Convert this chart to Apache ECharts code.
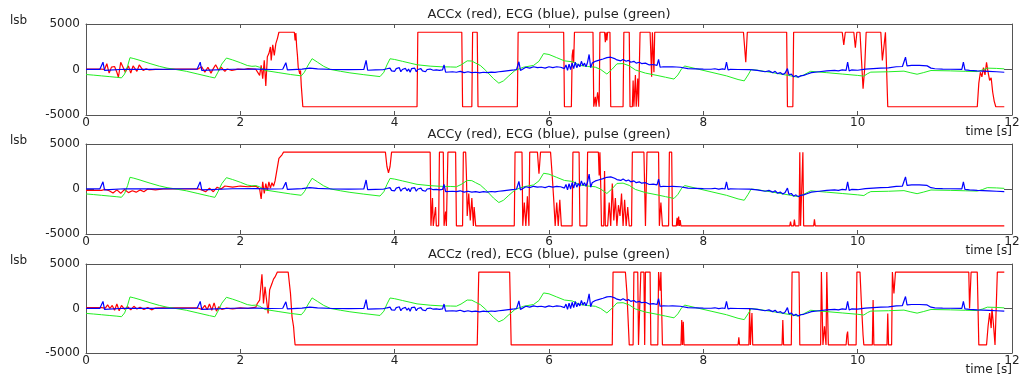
<!DOCTYPE html>
<html>
<head>
<meta charset="utf-8">
<script src="https://cdn.jsdelivr.net/npm/echarts@6/dist/echarts.min.js"></script>
<style>
html,body{margin:0;padding:0;background:#fff;}
#chart{width:1019px;height:376px;}
</style>
</head>
<body>
<div id="chart"></div>
<script>
// ---------- DATA ----------
const TITLES = ['ACCx (red), ECG (blue), pulse (green)', 'ACCy (red), ECG (blue), pulse (green)', 'ACCz (red), ECG (blue), pulse (green)'];
const X_TICKS = [0, 2, 4, 6, 8, 10, 12];
const Y_TICKS = [-5000, 0, 5000];
const Y_UNIT = 'lsb';
const X_NAME = 'time [s]';

// pulse (green) [t, lsb]
const PULSE = [[0,-550],[0.1,-620],[0.2,-700],[0.3,-780],[0.4,-860],[0.46,-920],[0.5,-500],[0.54,400],[0.57,1300],[0.62,1200],[0.7,1000],[0.83,650],[0.95,350],[1.05,150],[1.13,50],[1.3,-200],[1.45,-500],[1.6,-800],[1.67,-930],[1.71,-300],[1.76,600],[1.82,1260],[1.9,1050],[2.0,750],[2.09,440],[2.15,350],[2.2,380],[2.25,250],[2.32,-110],[2.5,-350],[2.65,-550],[2.79,-700],[2.83,-300],[2.88,500],[2.93,1190],[3.0,800],[3.08,350],[3.17,0],[3.3,-200],[3.42,-370],[3.6,-570],[3.81,-780],[3.86,-300],[3.9,500],[3.94,1180],[4.0,1100],[4.1,900],[4.2,700],[4.29,520],[4.46,370],[4.6,300],[4.72,280],[4.8,260],[4.86,500],[4.94,950],[5.0,930],[5.05,700],[5.11,440],[5.18,-100],[5.28,-1000],[5.35,-1500],[5.41,-1250],[5.48,-700],[5.56,-100],[5.67,250],[5.8,450],[5.87,900],[5.93,1750],[6.0,1650],[6.1,1300],[6.2,950],[6.3,850],[6.4,450],[6.5,330],[6.6,250],[6.67,0],[6.75,-500],[6.82,50],[6.88,620],[6.96,650],[7.04,400],[7.12,-50],[7.25,-400],[7.4,-650],[7.51,-850],[7.62,-1050],[7.67,-600],[7.72,100],[7.76,380],[7.9,100],[8.1,-300],[8.3,-700],[8.45,-1100],[8.53,-1250],[8.58,-600],[8.62,0],[8.7,-80],[8.9,-350],[9.1,-650],[9.22,-840],[9.3,-600],[9.39,-200],[9.6,-350],[9.8,-500],[10.0,-650],[10.08,-730],[10.13,-450],[10.17,-290],[10.4,-250],[10.6,-180],[10.68,-350],[10.77,-520],[10.85,-350],[10.95,-110],[11.2,-150],[11.4,-200],[11.55,-230],[11.62,-50],[11.68,150],[11.8,120],[11.9,70]];

// ECG (blue) [t, lsb]
const ECG = [[0,20],[0.18,20],[0.2,60],[0.22,800],[0.24,-100],[0.26,0],[0.5,30],[0.8,20],[1.2,30],[1.44,30],[1.46,100],[1.48,800],[1.5,-100],[1.52,0],[1.9,30],[2.2,40],[2.4,0],[2.55,30],[2.57,80],[2.59,750],[2.61,-50],[2.63,0],[2.8,50],[2.9,150],[3.0,60],[3.2,0],[3.4,-20],[3.6,0],[3.61,80],[3.63,1000],[3.65,-80],[3.67,-30],
[3.75,-50],[3.85,-30],[3.9,80],[3.92,-100],[3.94,150],[3.96,-150],[3.98,50],[4.0,-200],[4.02,100],[4.04,-100],[4.06,200],[4.08,-250],[4.1,0],[4.12,-150],[4.14,120],[4.16,-200],[4.18,50],[4.2,-300],[4.22,100],[4.24,-100],[4.26,150],[4.28,-250],[4.3,0],[4.32,-200],[4.34,100],[4.36,-150],[4.38,-50],[4.4,-250],[4.42,0],[4.44,-200],[4.46,50],[4.48,-150],[4.5,-80],[4.52,-250],[4.54,-50],[4.56,-200],[4.58,-100],[4.6,-150],[4.62,-50],[4.64,500],[4.66,-300],[4.68,-200],
[4.75,-250],[4.8,-300],[4.85,-200],[4.9,-350],[4.95,-250],[5.0,-350],[5.05,-300],[5.1,-380],[5.15,-300],[5.2,-350],[5.25,-280],[5.3,-320],[5.35,-250],[5.4,-200],[5.45,-150],[5.5,-100],[5.55,-50],[5.58,0],[5.59,150],[5.61,850],[5.63,-100],[5.65,100],[5.7,250],[5.75,150],[5.8,300],[5.85,200],[5.9,250],[5.95,150],[6.0,300],[6.05,200],[6.1,300],[6.15,250],
[6.2,100],[6.22,500],[6.24,-100],[6.26,600],[6.28,0],[6.3,700],[6.32,100],[6.34,800],[6.36,200],[6.38,600],[6.4,300],[6.42,900],[6.44,400],[6.46,700],[6.48,300],[6.5,800],[6.52,1650],[6.54,200],[6.56,700],[6.58,500],[6.6,900],[6.62,700],[6.64,1000],[6.66,900],[6.7,1150],[6.75,1300],[6.8,1350],[6.85,1200],[6.88,1050],[6.9,1150],[6.93,950],[6.96,1100],[7.0,900],[7.03,1000],[7.06,800],[7.1,900],[7.13,700],[7.17,800],[7.2,650],[7.25,700],[7.3,500],[7.35,550],[7.4,450],[7.42,1100],[7.44,250],[7.48,300],[7.55,280],[7.6,300],[7.7,250],[7.8,100],[8.0,50],[8.1,30],[8.15,80],[8.2,-20],[8.25,60],[8.28,0],[8.3,800],[8.32,-50],[8.35,20],[8.45,0],[8.6,-20],[8.7,-100],[8.8,-250],[8.85,-150],[8.9,-350],[8.93,-200],[8.96,-450],[9.0,-350],[9.03,-550],[9.06,-400],[9.08,-200],[9.09,100],[9.11,-600],[9.14,-500],[9.17,-800],[9.2,-650],[9.23,-850],[9.26,-700],[9.3,-650],[9.35,-500],[9.4,-350],[9.5,-250],[9.6,-150],[9.7,-100],[9.75,-150],[9.8,-50],[9.85,-100],[9.87,800],[9.89,-150],[9.92,-50],[10.0,-80],[10.1,50],[10.2,100],[10.3,150],[10.4,180],[10.5,300],[10.58,330],[10.6,400],[10.62,1350],[10.64,400],[10.7,450],[10.8,450],[10.9,400],[10.95,150],[11.0,80],[11.1,50],[11.2,30],[11.35,20],[11.37,800],[11.39,-50],[11.45,-100],[11.55,-150],[11.7,-200],[11.8,-250],[11.9,-300]];

// ACCx (red) [t, lsb]
const ACCX = [[0,40],[0.2,50],[0.24,0],[0.27,630],[0.3,-400],[0.33,260],[0.37,330],[0.4,-300],[0.42,-850],[0.45,800],[0.48,250],[0.51,-300],[0.55,400],[0.58,-400],[0.61,400],[0.66,-200],[0.69,500],[0.74,-100],[0.78,70],[0.82,-50],[0.9,20],[1.0,0],[1.1,40],[1.3,50],[1.45,50],[1.5,300],[1.54,-300],[1.58,250],[1.62,-400],[1.65,100],[1.68,520],[1.72,-100],[1.75,250],[1.8,-200],[1.83,60],[1.89,-100],[1.97,50],[2.05,0],[2.1,100],[2.2,30],[2.25,-650],[2.27,450],[2.29,-1000],[2.31,1000],[2.33,-1800],[2.35,1400],[2.37,1750],[2.39,2480],[2.4,1000],[2.42,2700],[2.44,1550],[2.46,2850],[2.48,3400],[2.5,4095],[2.7,4095],[2.71,3200],[2.72,4000],[2.73,2500],[2.74,1550],[2.75,260],[2.77,-480],[2.78,-100],[2.79,-1800],[2.81,-4096],[4.29,-4096],[4.3,4095],[4.87,4095],[4.88,-4096],[5.0,-4096],[5.01,4095],[5.07,4095],[5.08,-4096],[5.59,-4096],[5.6,4095],[6.19,4095],[6.2,-4096],[6.29,-4096],[6.3,1500],[6.31,2200],[6.32,800],[6.33,4095],[6.57,4095],[6.58,-4096],[6.6,-3000],[6.61,-4096],[6.63,-2500],[6.65,-4096],[6.66,4095],[6.72,4095],[6.73,3000],[6.74,4095],[6.75,3200],[6.76,4095],[6.79,4095],[6.8,-4096],[6.96,-4096],[6.97,4095],[7.04,4095],[7.05,-4096],[7.08,-4096],[7.09,-1200],[7.1,-4096],[7.12,-600],[7.13,-4096],[7.15,-1000],[7.16,-4096],[7.18,4095],[7.31,4095],[7.33,-800],[7.34,4095],[7.36,-300],[7.37,4095],[8.52,4095],[8.55,800],[8.57,4095],[9.08,4095],[9.09,-4096],[9.16,-4096],[9.17,4095],[9.8,4095],[9.82,2700],[9.84,4095],[9.95,4095],[9.97,2400],[9.99,4095],[10.03,4095],[10.05,1000],[10.07,-2100],[10.09,0],[10.11,4095],[10.3,4095],[10.32,1000],[10.34,2500],[10.36,4095],[10.38,4095],[10.39,-4096],[11.55,-4096],[11.57,-1500],[11.59,-300],[11.61,-800],[11.63,200],[11.65,-600],[11.67,800],[11.69,-300],[11.71,-1200],[11.73,-900],[11.75,-2500],[11.77,-3500],[11.79,-4096],[11.9,-4096]];

// ACCy (red) [t, lsb]
const ACCY = [[0,-150],[0.2,-150],[0.25,-50],[0.3,-200],[0.35,-450],[0.4,-100],[0.45,-480],[0.5,-50],[0.55,-400],[0.6,-200],[0.65,-350],[0.7,-100],[0.75,-300],[0.8,0],[0.9,-100],[1.0,0],[1.2,0],[1.45,20],[1.5,-100],[1.55,-300],[1.6,100],[1.65,-300],[1.7,200],[1.75,0],[1.8,330],[1.9,200],[2.0,330],[2.1,250],[2.2,330],[2.25,0],[2.27,-1100],[2.29,800],[2.31,-500],[2.33,600],[2.35,-200],[2.37,800],[2.39,100],[2.41,700],[2.43,300],[2.45,900],[2.47,1900],[2.5,3400],[2.54,3800],[2.56,4095],[3.88,4095],[3.9,2500],[3.92,1800],[3.94,2500],[3.96,4095],[4.46,4095],[4.47,-4096],[4.49,-1000],[4.5,-4096],[4.53,-2000],[4.54,-4096],[4.57,-4096],[4.58,4095],[4.63,4095],[4.64,-4096],[4.66,-2500],[4.67,-4096],[4.68,-4096],[4.69,4095],[4.79,4095],[4.8,-4096],[4.88,-4096],[4.89,4095],[4.92,4095],[4.93,1500],[4.94,-3000],[4.96,-500],[4.98,-3500],[5.0,-1000],[5.02,-4096],[5.03,-2000],[5.05,-4096],[5.55,-4096],[5.56,4095],[5.65,4095],[5.66,-4096],[5.68,-1500],[5.7,-4096],[5.72,-800],[5.74,-4096],[5.75,4095],[5.85,4095],[5.87,1700],[5.89,4095],[6.02,4095],[6.04,1700],[6.06,-1000],[6.08,-4096],[6.1,-1500],[6.12,-4096],[6.14,-1200],[6.16,-4096],[6.3,-4096],[6.31,4095],[6.39,4095],[6.4,-4096],[6.49,-4096],[6.5,4095],[6.64,4095],[6.65,1500],[6.66,4095],[6.67,500],[6.68,-4096],[6.71,-4096],[6.72,2000],[6.73,-4096],[6.76,-4096],[6.78,-1500],[6.8,-4096],[6.82,600],[6.84,-3500],[6.86,-1000],[6.88,-4096],[6.9,-1800],[6.92,-3000],[6.94,-500],[6.96,-4096],[6.98,-1200],[7.0,-4096],[7.02,-2000],[7.04,-4096],[7.07,-4096],[7.08,4095],[7.23,4095],[7.24,0],[7.25,-4096],[7.26,-4096],[7.27,4095],[7.42,4095],[7.43,-4096],[7.45,-1500],[7.47,-4096],[7.55,-4096],[7.56,4095],[7.59,4095],[7.6,-4096],[7.65,-4096],[7.66,-3200],[7.67,-4096],[7.68,-3070],[7.69,-4096],[7.7,-3440],[7.71,-4096],[9.12,-4096],[9.13,-3630],[9.14,-4096],[9.17,-4096],[9.18,-3400],[9.19,-4096],[9.24,-4096],[9.25,4095],[9.26,-4096],[9.28,-4096],[9.29,4095],[9.3,-4096],[9.43,-4096],[9.44,-3370],[9.45,-4096],[11.9,-4096]];

// ACCz (red) [t, lsb]
const ACCZ = [[0,100],[0.2,100],[0.25,50],[0.28,400],[0.31,0],[0.34,350],[0.37,-200],[0.4,500],[0.43,-250],[0.46,350],[0.5,-100],[0.54,200],[0.58,-150],[0.62,250],[0.66,-50],[0.7,150],[0.75,-100],[0.8,100],[0.85,-150],[0.9,50],[1.0,80],[1.2,60],[1.45,60],[1.5,-100],[1.54,350],[1.57,-150],[1.6,500],[1.63,-200],[1.66,640],[1.69,-300],[1.72,200],[1.76,-100],[1.82,50],[1.9,-50],[2.0,80],[2.1,0],[2.2,150],[2.22,560],[2.25,940],[2.28,3850],[2.3,560],[2.32,2430],[2.36,-560],[2.38,2100],[2.41,2800],[2.43,3300],[2.45,3550],[2.48,4095],[2.62,4095],[2.65,1690],[2.67,-940],[2.69,-2050],[2.7,-3200],[2.71,-4096],[5.07,-4096],[5.09,4095],[5.49,4095],[5.51,-4096],[6.82,-4096],[6.83,4095],[6.99,4095],[7.01,1700],[7.04,-4096],[7.09,-4096],[7.1,4095],[7.15,4095],[7.16,-4096],[7.18,-4096],[7.19,4095],[7.23,4095],[7.24,-4096],[7.25,4095],[7.31,4095],[7.32,-4096],[7.41,-4096],[7.42,4095],[7.44,2000],[7.45,4095],[7.46,4095],[7.47,-4096],[7.71,-4096],[7.72,-1290],[7.73,-4096],[7.74,-1500],[7.75,-4096],[8.45,-4096],[8.46,-3240],[8.47,-4096],[8.59,-4096],[8.6,0],[8.61,-4096],[8.62,-4096],[8.63,-500],[8.64,-4096],[9.02,-4096],[9.03,-1300],[9.04,-4096],[9.14,-4096],[9.15,4095],[9.24,4095],[9.25,-4096],[9.52,-4096],[9.53,4095],[9.54,4095],[9.55,-4096],[9.57,-2000],[9.59,-4096],[9.6,4095],[9.61,4095],[9.62,-4096],[9.85,-4096],[9.86,-3000],[9.87,-2600],[9.88,-4096],[9.98,-4096],[9.99,4095],[10.03,4095],[10.05,300],[10.07,-3000],[10.08,-4096],[10.19,-4096],[10.2,950],[10.21,-4096],[10.38,-4096],[10.39,-560],[10.4,-4096],[10.44,-4096],[10.45,4095],[10.47,1700],[10.49,4095],[11.44,4095],[11.45,0],[11.47,4095],[11.55,4095],[11.57,-4096],[11.67,-4096],[11.69,-2000],[11.71,-500],[11.73,-2200],[11.74,0],[11.76,-1800],[11.78,-4096],[11.8,-4096],[11.81,4095],[11.9,4095]];

const ACC = [ACCX, ACCY, ACCZ];

// ---------- LAYOUT ----------
const FONT = 'DejaVu Sans';
const FS = 12;
const TFS = 13;
const TXT = '#222';
const AX = '#555';
const LEFT = 86, WIDTH = 926;
const TOPS = [24, 144, 264];
const HEIGHTS = [91, 90, 89];

function xAxisDef(i, pos) {
  return {
    type: 'value', gridIndex: i, min: X_TICKS[0], max: X_TICKS[X_TICKS.length - 1], interval: X_TICKS[1] - X_TICKS[0],
    position: pos,
    axisLine: {show: true, onZero: false, lineStyle: {color: AX, width: 1}},
    axisTick: {show: true, inside: true, length: 4, lineStyle: {color: AX}},
    axisLabel: {show: pos === 'bottom', margin: 2, color: TXT, fontFamily: FONT, fontSize: FS, formatter: v => String(v)},
    splitLine: {show: false}
  };
}
function yAxisDef(i, pos) {
  return {
    type: 'value', gridIndex: i, min: Y_TICKS[0], max: Y_TICKS[Y_TICKS.length - 1], interval: Y_TICKS[1] - Y_TICKS[0],
    position: pos,
    axisLine: {show: true, onZero: false, lineStyle: {color: AX, width: 1}},
    axisTick: {show: true, inside: true, length: 8, lineStyle: {color: AX}},
    axisLabel: {show: pos === 'left', margin: 6, color: TXT, fontFamily: FONT, fontSize: FS, formatter: v => String(v)},
    splitLine: {show: false}
  };
}

const grids = [], xAxes = [], yAxes = [], series = [], graphics = [];
for (let i = 0; i < 3; i++) {
  grids.push({left: LEFT, width: WIDTH, top: TOPS[i], height: HEIGHTS[i], show: false, outerBoundsMode: 'none', containLabel: false});
  xAxes.push(xAxisDef(i, 'bottom'), xAxisDef(i, 'top'));
  yAxes.push(yAxisDef(i, 'left'), yAxisDef(i, 'right'));

  const common = {type: 'line', showSymbol: false, symbol: 'none', silent: true, clip: true, animation: false};
  series.push(Object.assign({}, common, {name: 'acc' + i, xAxisIndex: 2 * i, yAxisIndex: 2 * i, data: ACC[i], lineStyle: {color: '#ff0000', width: 1.2}, z: 2}));
  series.push(Object.assign({}, common, {name: 'pulse' + i, xAxisIndex: 2 * i, yAxisIndex: 2 * i, data: PULSE, lineStyle: {color: '#22ee22', width: 1}, z: 3}));
  series.push(Object.assign({}, common, {name: 'ecg' + i, xAxisIndex: 2 * i, yAxisIndex: 2 * i, data: ECG, lineStyle: {color: '#0000ff', width: 1.2}, z: 4}));
  // invisible copy bound to the top / right axes so the frame axes are drawn
  series.push(Object.assign({}, common, {name: 'frame' + i, xAxisIndex: 2 * i + 1, yAxisIndex: 2 * i + 1, data: ECG, lineStyle: {opacity: 0, width: 0}, z: 1}));

  graphics.push({type: 'text', x: LEFT + WIDTH / 2, y: TOPS[i] - 9, style: {text: TITLES[i], font: TFS + 'px "' + FONT + '"', fill: TXT, textAlign: 'center', textVerticalAlign: 'middle'}});
  graphics.push({type: 'text', x: 10, y: TOPS[i] - 3, style: {text: Y_UNIT, font: FS + 'px "' + FONT + '"', fill: TXT, textAlign: 'left', textVerticalAlign: 'middle'}});
  graphics.push({type: 'text', x: LEFT + WIDTH, y: TOPS[i] + HEIGHTS[i] + 17, style: {text: X_NAME, font: FS + 'px "' + FONT + '"', fill: TXT, textAlign: 'right', textVerticalAlign: 'middle'}});
}

const chart = echarts.init(document.getElementById('chart'), null, {renderer: 'canvas'});
chart.setOption({
  animation: false,
  backgroundColor: '#fff',
  grid: grids,
  xAxis: xAxes,
  yAxis: yAxes,
  series: series,
  graphic: graphics
});
</script>
</body>
</html>
